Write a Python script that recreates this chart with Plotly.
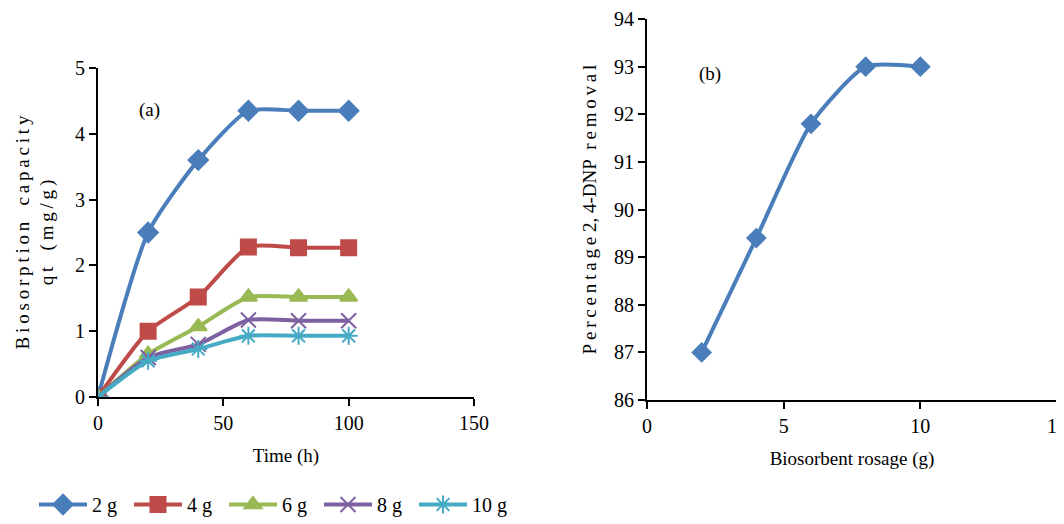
import plotly.graph_objects as go

time_h = [0, 20, 40, 60, 80, 100]
series_names = ["2 g", "4 g", "6 g", "8 g", "10 g"]
q_2g = [0, 2.5, 3.6, 4.35, 4.35, 4.35]
q_4g = [0, 1.0, 1.52, 2.28, 2.27, 2.27]
q_6g = [0, 0.65, 1.07, 1.52, 1.52, 1.52]
q_8g = [0, 0.6, 0.8, 1.17, 1.16, 1.16]
q_10g = [0, 0.55, 0.73, 0.93, 0.93, 0.93]

dosage_g = [2, 4, 6, 8, 10]
removal_pct = [87, 89.4, 91.8, 93, 93]

colors = ["#4a7ebb", "#be4b48", "#98b954", "#7d60a0", "#46aac5"]
symbols = ["diamond", "square", "triangle-up", "x-thin", "asterisk"]
FONT = "Liberation Serif"

W, H = 1056, 516
OFF = 8  # page body margin


def fx(p):
    return (p - OFF) / W


def fy(p):
    return 1 - (p - OFF) / H


fig = go.Figure()
for name, ys, c, s in zip(series_names, [q_2g, q_4g, q_6g, q_8g, q_10g], colors, symbols):
    fig.add_trace(go.Scatter(x=time_h, y=ys, name=name, mode="lines+markers",
                             line=dict(color=c, width=4, shape="spline", smoothing=0.6),
                             marker=dict(symbol=s, size=15, color=c, line=dict(color=c, width=2)),
                             xaxis="x", yaxis="y"))

fig.add_trace(go.Scatter(x=dosage_g, y=removal_pct, mode="lines+markers", showlegend=False,
                         line=dict(color=colors[0], width=4, shape="spline", smoothing=0.6),
                         marker=dict(symbol="diamond", size=16, color=colors[0]),
                         xaxis="x2", yaxis="y2"))

axis_common = dict(showline=True, linecolor="black", linewidth=2, ticks="outside",
                   ticklen=7, tickwidth=2, tickcolor="black", showgrid=False, zeroline=False,
                   automargin=False, ticklabeloverflow="allow",
                   tickfont=dict(family=FONT, size=20, color="black"))

ts = "\u2009"
nb = "\u00a0\u2009"


def spaced(s):
    return ts.join(nb if ch == " " else ch for ch in s)


fig.update_layout(
    width=W, height=H,
    margin=dict(l=0, r=0, t=0, b=0),
    paper_bgcolor="white", plot_bgcolor="white",
    font=dict(family=FONT, size=19, color="black"),
    xaxis=dict(domain=[fx(98), fx(474)], range=[0, 150], tickvals=[0, 50, 100, 150],
               title=dict(text="Time (h)", font=dict(size=19), standoff=16),
               anchor="y", **axis_common),
    yaxis=dict(domain=[fy(397), fy(68)], range=[0, 5], tickvals=[0, 1, 2, 3, 4, 5],
               title=dict(text=spaced("Biosorption capacity") + "<br>" + spaced("qt (mg/g)"),
                          font=dict(size=19), standoff=16),
               anchor="x", **axis_common),
    xaxis2=dict(domain=[fx(647), fx(1057)], range=[0, 15], tickvals=[0, 5, 10, 15],
                title=dict(text="Biosorbent rosage (g)", font=dict(size=19), standoff=16),
                anchor="y2", **axis_common),
    yaxis2=dict(domain=[fy(400), fy(19)], range=[86, 94.001],
                tickvals=[86, 87, 88, 89, 90, 91, 92, 93, 94],
                title=dict(text=spaced("Percentage") + "\u00a02,\u00a04-DNP\u00a0\u00a0" + spaced("removal"),
                           font=dict(size=19), standoff=12),
                anchor="x2", **axis_common),
    legend=dict(orientation="h", x=fx(34), y=0, xanchor="left", yanchor="bottom",
                font=dict(family=FONT, size=20), tracegroupgap=0,
                itemwidth=48, entrywidth=32, entrywidthmode="pixels",
                bgcolor="rgba(0,0,0,0)"),
    annotations=[
        dict(text="(a)", x=20.7, y=4.36, xref="x", yref="y", showarrow=False,
             font=dict(family=FONT, size=19)),
        dict(text="(b)", x=2.3, y=92.85, xref="x2", yref="y2", showarrow=False,
             font=dict(family=FONT, size=19)),
    ],
)

fig.write_html("out.html")
